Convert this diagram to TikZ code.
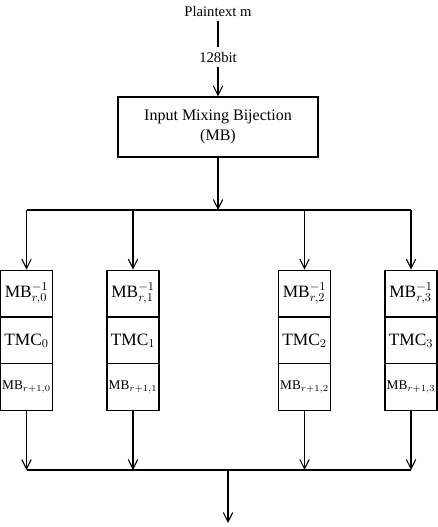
\documentclass[tikz,border=0pt]{standalone}
\usepackage{fontspec}
\setmainfont{Liberation Serif}
\usetikzlibrary{arrows.meta}
\tikzset{
  flow/.style={line width=0.8pt, -{Straight Barb[length=7pt,width=7pt,line width=0.8pt]}},
  wire/.style={line width=0.8pt},
  cell/.style={draw, line width=0.8pt, minimum width=39pt, minimum height=35pt, inner sep=0pt},
}
\begin{document}
\begin{tikzpicture}[x=0.75pt,y=-0.75pt]
  \useasboundingbox (0,0) rectangle (437,527);
          \node (pm) at (218,11) {\fontsize{11pt}{13pt}\selectfont Plaintext m};
          \node (bits) at (218,57) {\fontsize{11pt}{13pt}\selectfont 128bit};
          \node [draw, line width=0.8pt, minimum width=150pt, minimum height=45pt, align=center,
                 font=\fontsize{12pt}{15pt}\selectfont] (mix) at (218,127) {Input Mixing Bijection\\(MB)};

          % four columns
          \foreach \i/\x in {0/26.5, 1/133, 2/304.5, 3/411} {
            \node [cell, font=\fontsize{13pt}{15pt}\selectfont] (inv\i) at (\x,293.5) {MB$^{-1}_{r,\i}$};
            \node [cell, font=\fontsize{13pt}{15pt}\selectfont] (tmc\i) at (\x,340.5) {TMC$_{\i}$};
            \node [cell, font=\fontsize{10pt}{12pt}\selectfont] (mbn\i) at (\x,387) {MB$_{r+1,\i}$};
            \coordinate (s\i) at (\x,210);
            \coordinate (m\i) at (\x,470);
          }
          \coordinate (split) at (218,210);
          \coordinate (join) at (228,470);
          \coordinate (out) at (228,523);

          \draw [wire] (pm) -- (bits);
          \draw [flow] (bits) -- (mix);
          \draw [flow] (mix) -- (split);
          \draw [wire] (s0) -- (s3);
          \foreach \i in {0,...,3} {
            \draw [flow] (s\i) -- (inv\i);
            \draw [flow] (mbn\i) -- (m\i);
          }
          \draw [wire] (m0) -- (m3);
          \draw [flow] (join) -- (out);
  \end{tikzpicture}
\end{document}
